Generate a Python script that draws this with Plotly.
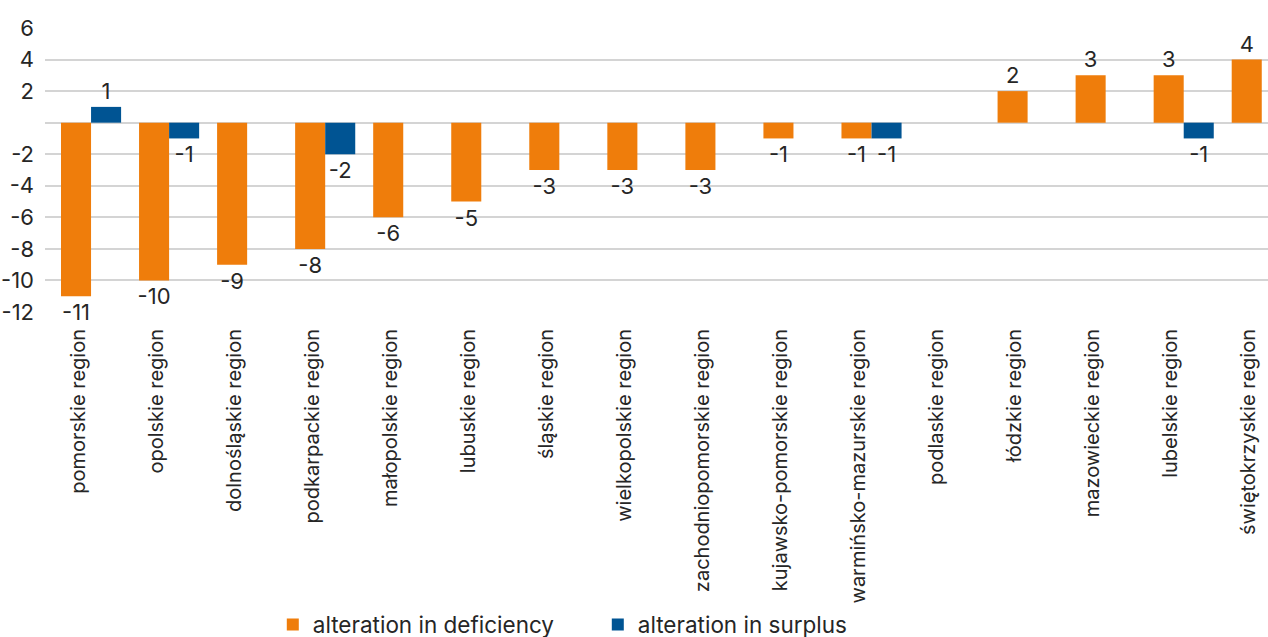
import plotly.graph_objects as go

regions = [
    "pomorskie region", "opolskie region", "dolnośląskie region", "podkarpackie region",
    "małopolskie region", "lubuskie region", "śląskie region", "wielkopolskie region",
    "zachodniopomorskie region", "kujawsko-pomorskie region", "warmińsko-mazurskie region",
    "podlaskie region", "łódzkie region", "mazowieckie region", "lubelskie region",
    "świętokrzyskie region",
]
deficiency = [-11, -10, -9, -8, -6, -5, -3, -3, -3, -1, -1, 0, 2, 3, 3, 4]
surplus = [1, -1, 0, -2, 0, 0, 0, 0, 0, 0, -1, 0, 0, 0, -1, 0]
y_ticks = [-12, -10, -8, -6, -4, -2, 0, 2, 4, 6]
y_tick_text = ["-12", "-10", "-8", "-6", "-4", "-2", "", "2", "4", "6"]

ORANGE = "#EF7D0B"
BLUE = "#005493"
TEXT = "#262626"
FONT = "Inter"


def labels(values):
    return [str(v) if v != 0 else "" for v in values]


x = list(range(len(regions)))

fig = go.Figure()
fig.add_trace(go.Bar(
    x=x, y=deficiency, name="alteration in deficiency",
    marker=dict(color=ORANGE, line=dict(width=0)),
    text=labels(deficiency), textposition="outside", constraintext="none",
    textfont=dict(family=FONT, size=22, color=TEXT), cliponaxis=False,
))
fig.add_trace(go.Bar(
    x=x, y=surplus, name="alteration in surplus",
    marker=dict(color=BLUE, line=dict(width=0)),
    text=labels(surplus), textposition="outside", constraintext="none",
    textfont=dict(family=FONT, size=22, color=TEXT), cliponaxis=False,
))

fig.update_layout(
    width=1268, height=637,
    margin=dict(l=45, r=0, t=28, b=325, autoexpand=False),
    paper_bgcolor="white", plot_bgcolor="white",
    barmode="group", bargap=0.23, bargroupgap=0,
    font=dict(family=FONT, color=TEXT),
    showlegend=True,
    legend=dict(
        orientation="h", x=0.452, xanchor="center", y=-1.102, yanchor="middle",
        font=dict(family=FONT, size=22.5, color=TEXT),
        itemwidth=30, traceorder="normal", entrywidth=280,
    ),
    xaxis=dict(
        range=[-0.59, 15.08],
        tickmode="array", tickvals=x, ticktext=regions,
        tickangle=-90, ticklabelshift=-13, ticklabelstandoff=12,
        tickfont=dict(family=FONT, size=20, color=TEXT),
        showgrid=False, zeroline=False, showline=False, ticks="",
    ),
    yaxis=dict(
        range=[-12, 6],
        tickmode="array", tickvals=y_ticks, ticktext=y_tick_text,
        tickfont=dict(family=FONT, size=22, color=TEXT),
        showgrid=True, gridcolor="#D4D4D4", gridwidth=1.5,
        zeroline=True, zerolinecolor="#D4D4D4", zerolinewidth=1.5,
        showline=False, ticks="", ticklabelstandoff=10,
    ),
)

fig.write_html("out.html")
